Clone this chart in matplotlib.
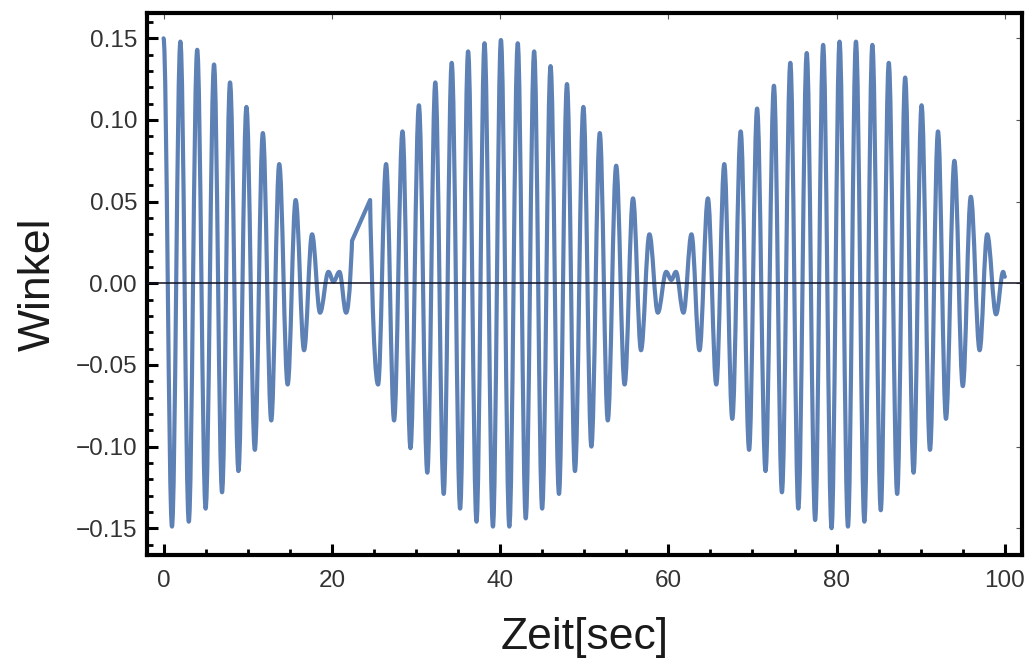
import matplotlib
matplotlib.use("Agg")
import matplotlib.pyplot as plt
from matplotlib.path import Path
from matplotlib.patches import PathPatch
from matplotlib.ticker import FixedLocator, MultipleLocator, FuncFormatter

# Extremes (turning points) of the oscillation
times = [0.0, 1.0, 2.0, 3.0, 4.0, 5.0, 6.0, 6.95, 7.9, 8.9, 9.85, 10.85,
         11.8, 12.8, 13.75, 14.75, 15.7, 16.7, 17.65, 18.6, 19.6, 20.2,
         20.9, 21.7, 22.4, 24.55, 25.5, 26.45, 27.4, 28.4, 29.35, 30.35,
         31.35, 32.3, 33.3, 34.25, 35.25, 36.2, 37.2, 38.15, 39.15, 40.1,
         41.1, 42.1, 43.05, 44.05, 45.0, 46.0, 47.0, 47.95, 48.9, 49.9,
         50.85, 51.85, 52.8, 53.8, 54.8, 55.8, 56.75, 57.75, 58.75, 59.75,
         60.35, 60.9, 61.8, 62.75, 63.7, 64.7, 65.7, 66.65, 67.6, 68.6,
         69.6, 70.55, 71.55, 72.55, 73.5, 74.5, 75.45, 76.45, 77.45, 78.4,
         79.4, 80.35, 81.35, 82.3, 83.3, 84.25, 85.25, 86.2, 87.2, 88.15,
         89.15, 90.1, 91.1, 92.05, 93.0, 94.0, 95.0, 95.95, 97.0, 97.9,
         98.95, 99.8, 100.0]
values = [0.150, -0.149, 0.148, -0.146, 0.143, -0.138, 0.134, -0.128,
          0.123, -0.115, 0.108, -0.102, 0.092, -0.084, 0.073, -0.062,
          0.051, -0.041, 0.030, -0.018, 0.007, 0.001, 0.007, -0.018,
          0.026, 0.051, -0.062, 0.073, -0.084, 0.093, -0.101, 0.109,
          -0.116, 0.123, -0.129, 0.135, -0.138, 0.142, -0.146, 0.147,
          -0.149, 0.149, -0.149, 0.147, -0.144, 0.142, -0.138, 0.133,
          -0.129, 0.122, -0.115, 0.108, -0.100, 0.092, -0.084, 0.072,
          -0.062, 0.052, -0.041, 0.030, -0.018, 0.007, 0.002, 0.007,
          -0.018, 0.030, -0.041, 0.052, -0.062, 0.073, -0.083, 0.093,
          -0.102, 0.107, -0.115, 0.121, -0.128, 0.135, -0.138, 0.141,
          -0.145, 0.146, -0.150, 0.148, -0.149, 0.148, -0.146, 0.146,
          -0.139, 0.135, -0.129, 0.126, -0.116, 0.109, -0.102, 0.093,
          -0.083, 0.075, -0.063, 0.053, -0.041, 0.030, -0.019, 0.007,
          0.004]
# points where the plotted curve has a sharp kink (sampling glitch)
corner_times = [22.4, 24.55]

x_major = [0, 20, 40, 60, 80, 100]
y_major = [-0.15, -0.10, -0.05, 0.00, 0.05, 0.10, 0.15]

line_color = "#5E81B5"
plt.rcParams["font.family"] = ["Liberation Sans", "DejaVu Sans"]

fig = plt.figure(figsize=(10.29, 6.65), dpi=100)
ax = fig.add_axes([0.1426, 0.1654, 0.8503, 0.8155])

# smooth path through the turning points (horizontal tangents at extremes)
k = 0.3634
verts = [(times[0], values[0])]
codes = [Path.MOVETO]
for i in range(len(times) - 1):
    t0, y0, t1, y1 = times[i], values[i], times[i + 1], values[i + 1]
    c0 = t0 in corner_times
    c1 = t1 in corner_times
    dt = t1 - t0
    if c0 and c1:
        verts.append((t1, y1))
        codes.append(Path.LINETO)
        continue
    p1 = (t0, y0) if c0 else (t0 + (0.6 if c1 else k) * dt, y0)
    p2 = (t1, y1) if c1 else (t1 - (0.6 if c0 else k) * dt, y1)
    verts += [p1, p2, (t1, y1)]
    codes += [Path.CURVE4] * 3
patch = PathPatch(Path(verts, codes), facecolor="none", edgecolor=line_color,
                  lw=3.0, capstyle="round", joinstyle="round", zorder=2,
                  transform=ax.transData)
ax.add_patch(patch)

ax.axhline(0, color="#111122", lw=1.1, zorder=3)

ax.set_xlim(-2.0, 102.0)
ax.set_ylim(-0.1664, 0.1657)

for s in ax.spines.values():
    s.set_linewidth(3.0)
    s.set_color("black")

ax.xaxis.set_major_locator(FixedLocator(x_major))
ax.xaxis.set_minor_locator(MultipleLocator(5))
ax.yaxis.set_major_locator(FixedLocator(y_major))
ax.yaxis.set_minor_locator(MultipleLocator(0.01))
ax.yaxis.set_major_formatter(FuncFormatter(
    lambda v, p: ("%.2f" % v).replace("-", "\u2212") if abs(v) > 1e-9 else "0.00"))
ax.xaxis.set_major_formatter(FuncFormatter(lambda v, p: "%d" % round(v)))

ax.tick_params(which="both", direction="in", top=False, right=False,
               colors="black", labelcolor="#333333")
ax.tick_params(axis="y", which="major", length=8, width=2.2, pad=7, labelsize=17.5)
ax.tick_params(axis="y", which="minor", length=4.5, width=2.0)
ax.tick_params(axis="x", which="major", length=8, width=2.2, pad=10.5, labelsize=17.5)
ax.tick_params(axis="x", which="minor", length=4.5, width=2.0)

# thin major ticks on top and right, no labels
secx = ax.secondary_xaxis("top")
secx.set_xticks(x_major)
secx.tick_params(direction="in", length=4, width=0.8, labeltop=False, colors="#555555")
secx.spines["top"].set_visible(False)
secy = ax.secondary_yaxis("right")
secy.set_yticks(y_major)
secy.tick_params(direction="in", length=4, width=0.8, labelright=False, colors="#555555")
secy.spines["right"].set_visible(False)

ax.set_xlabel("Zeit[sec]", fontsize=32, color="#1a1a1a")
ax.xaxis.set_label_coords(0.5, -0.114)
ax.set_ylabel("Winkel", fontsize=32, color="#1a1a1a")
ax.yaxis.set_label_coords(-0.100, 0.5)

fig.savefig("out.png", dpi=100)
